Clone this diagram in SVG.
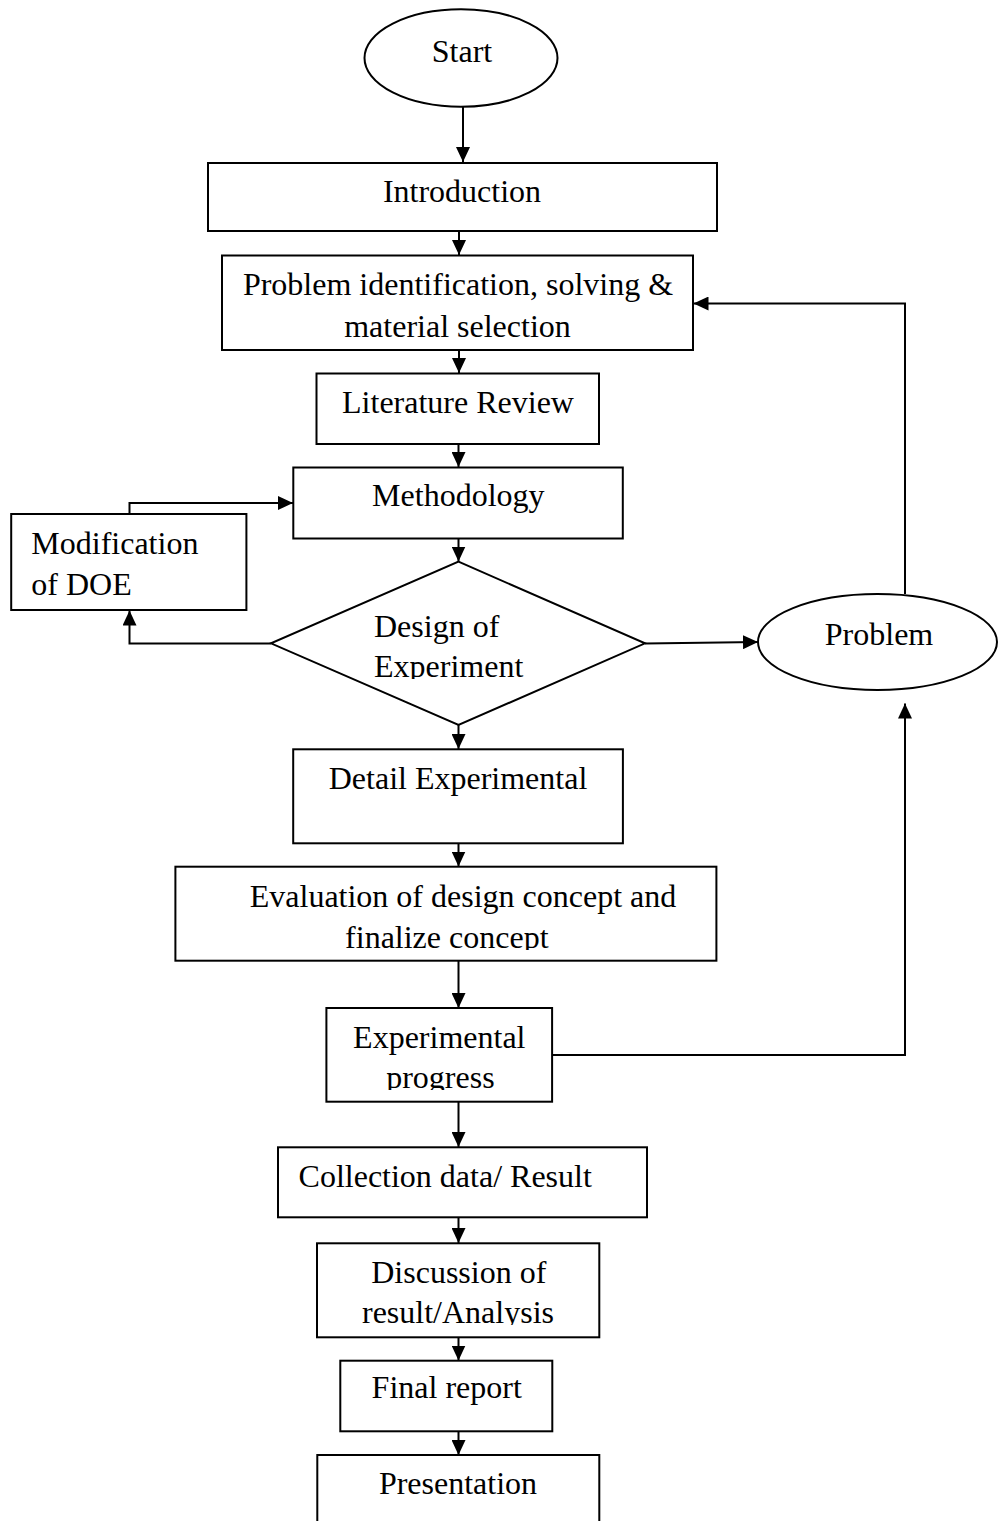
<svg xmlns="http://www.w3.org/2000/svg" width="998" height="1521" viewBox="0 0 998 1521">
<style>
.box{fill:#fff;stroke:#000;stroke-width:2}
.t{font-family:"Liberation Serif","Times New Roman",serif;font-size:32px;fill:#000}
.c{text-anchor:middle}
.e{fill:none;stroke:#000;stroke-width:2}
</style>
<defs>
<marker id="ah" markerUnits="userSpaceOnUse" markerWidth="16" markerHeight="14" refX="15" refY="7" orient="auto">
<path d="M0,0 L15,7 L0,14 z" fill="#000"/>
</marker>
<clipPath id="clipDoe"><rect x="300" y="600" width="300" height="79"/></clipPath>
<clipPath id="clipEval"><rect x="180" y="870" width="530" height="80"/></clipPath>
<clipPath id="clipProg"><rect x="330" y="1012" width="220" height="78"/></clipPath>
<clipPath id="clipDisc"><rect x="320" y="1246" width="278" height="79"/></clipPath>
</defs>
<rect width="998" height="1521" fill="#fff"/>
<g id="connectors" class="e">
<path d="M463,91 V162" marker-end="url(#ah)"/>
<path d="M459,231 V255" marker-end="url(#ah)"/>
<path d="M459,350 V373" marker-end="url(#ah)"/>
<path d="M458.5,444 V467" marker-end="url(#ah)"/>
<path d="M458.5,538 V561.5" marker-end="url(#ah)"/>
<path d="M458.5,725 V749" marker-end="url(#ah)"/>
<path d="M458.5,843 V866.5" marker-end="url(#ah)"/>
<path d="M458.5,961 V1008" marker-end="url(#ah)"/>
<path d="M458.5,1102 V1147" marker-end="url(#ah)"/>
<path d="M458.5,1217 V1243" marker-end="url(#ah)"/>
<path d="M458.5,1337 V1360.5" marker-end="url(#ah)"/>
<path d="M458.5,1431 V1455" marker-end="url(#ah)"/>
<path d="M271,643.5 H129.5 V610.5" marker-end="url(#ah)"/>
<path d="M129.5,514 V503 H293" marker-end="url(#ah)"/>
<path d="M645,643.5 L758,642" marker-end="url(#ah)"/>
<path d="M905,594 V303.5 H693.5" marker-end="url(#ah)"/>
<path d="M552,1055 H905 V703.5" marker-end="url(#ah)"/>
</g>
<g id="start">
<ellipse class="box" cx="461" cy="58" rx="96.5" ry="48.7"/>
<text class="t c" x="462" y="62">Start</text>
</g>
<g id="introduction">
<rect class="box" x="208" y="163" width="509" height="68"/>
<text class="t c" x="462" y="202">Introduction</text>
</g>
<g id="problem-identification">
<rect class="box" x="222" y="255.5" width="471" height="94.5"/>
<text class="t c" x="458" y="295">Problem identification, solving &amp;</text>
<text class="t c" x="457.5" y="337">material selection</text>
</g>
<g id="literature-review">
<rect class="box" x="316.5" y="373.5" width="282.5" height="70.5"/>
<text class="t c" x="458" y="413">Literature Review</text>
</g>
<g id="methodology">
<rect class="box" x="293.3" y="467.5" width="329.5" height="71"/>
<text class="t c" x="458.3" y="506">Methodology</text>
</g>
<g id="modification-of-doe">
<rect class="box" x="11.2" y="514" width="235.2" height="96"/>
<text class="t" x="31.3" y="553.5">Modification</text>
<text class="t" x="31.3" y="595">of DOE</text>
</g>
<g id="design-of-experiment">
<polygon class="box" points="458.5,561.7 645,643.3 458.5,725 271,643.3"/>
<g clip-path="url(#clipDoe)">
<text class="t" x="374" y="636.7">Design of</text>
<text class="t" x="374" y="676.7">Experiment</text>
</g>
</g>
<g id="problem">
<ellipse class="box" cx="877.5" cy="642" rx="119.5" ry="48"/>
<text class="t c" x="879" y="645">Problem</text>
</g>
<g id="detail-experimental">
<rect class="box" x="293.2" y="749.3" width="329.7" height="94"/>
<text class="t c" x="458" y="789">Detail Experimental</text>
</g>
<g id="evaluation">
<rect class="box" x="175.4" y="866.7" width="541" height="94"/>
<g clip-path="url(#clipEval)">
<text class="t c" x="463" y="906.7">Evaluation of design concept and</text>
<text class="t c" x="446.8" y="948.3">finalize concept</text>
</g>
</g>
<g id="experimental-progress">
<rect class="box" x="326.4" y="1008" width="225.7" height="93.7"/>
<g clip-path="url(#clipProg)">
<text class="t c" x="439.3" y="1047.7">Experimental</text>
<text class="t c" x="440.4" y="1088.3">progress</text>
</g>
</g>
<g id="collection-data">
<rect class="box" x="278" y="1147.3" width="369" height="70"/>
<text class="t c" x="445.2" y="1186.7">Collection data/ Result</text>
</g>
<g id="discussion">
<rect class="box" x="317" y="1243.3" width="282.3" height="94"/>
<g clip-path="url(#clipDisc)">
<text class="t c" x="458.8" y="1282.7">Discussion of</text>
<text class="t c" x="458" y="1323.3">result/Analysis</text>
</g>
</g>
<g id="final-report">
<rect class="box" x="340.3" y="1360.7" width="212" height="70.6"/>
<text class="t c" x="446.7" y="1398.3">Final report</text>
</g>
<g id="presentation">
<path class="e" d="M317.3,1525 V1455 H599.3 V1525"/>
<text class="t c" x="458" y="1494.3">Presentation</text>
</g>
</svg>
